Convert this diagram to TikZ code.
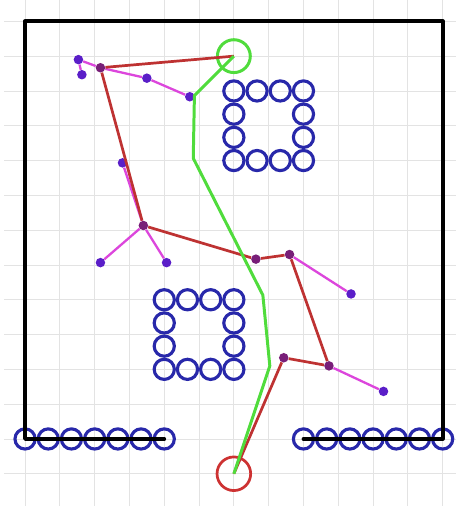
\documentclass[tikz,border=0pt]{standalone}
\usetikzlibrary{positioning}

\definecolor{obst}{RGB}{40,40,170}
\definecolor{treered}{RGB}{190,50,50}
\definecolor{treemag}{RGB}{220,70,220}
\definecolor{vtxin}{RGB}{120,30,120}
\definecolor{vtxleaf}{RGB}{90,30,200}
\definecolor{routegreen}{RGB}{80,220,60}
\definecolor{goalred}{RGB}{205,50,50}

\begin{document}
\begin{tikzpicture}[
  x=0.3cm, y=0.3cm,
  gridline/.style={gray!22, line width=0.6pt},
  wall/.style={black, line width=2.8pt, line join=round, line cap=round},
  obstacle/.style={obst, line width=2.3pt},
  branch/.style={treered, line width=2pt},
  twig/.style={treemag, line width=1.7pt},
  vtx/.style={circle, fill=vtxin, inner sep=0pt, minimum size=7pt},
  leaf/.style={circle, fill=vtxleaf, inner sep=0pt, minimum size=7pt},
  route/.style={routegreen, line width=2.2pt, line join=round},
]

% Geometry
\def\rob{0.87}         % radius of one obstacle disc

\useasboundingbox (-2.16,-5.78) rectangle (37.16,37.84);

% ── Background grid (every 3 units) ────────────────────────────────────
\foreach \gx in {0,3,...,36}
  \draw[gridline] (\gx,-5.78) -- (\gx,37.84);
\foreach \gy in {-3,0,...,36}
  \draw[gridline] (-1.8,\gy) -- (37.16,\gy);

% ── Obstacles ───────────────────────────────────────────────────────────
% Two rows of discs along the bottom wall
\foreach \ox in {0,2,...,12}
  \draw[obstacle] (\ox,0) circle (\rob);
\foreach \ox in {24,26,...,36}
  \draw[obstacle] (\ox,0) circle (\rob);

% Hollow square blocks: each entry is its lower-left disc
\foreach \bx/\by in {18/24, 12/6} {
  \foreach \k in {0,2,4,6} {
    \draw[obstacle] (\bx+\k,\by) circle (\rob);
    \draw[obstacle] (\bx+\k,\by+6) circle (\rob);
  }
  \foreach \k in {2,4} {
    \draw[obstacle] (\bx,\by+\k) circle (\rob);
    \draw[obstacle] (\bx+6,\by+\k) circle (\rob);
  }
}

% ── Walls (open gap in the bottom wall) ────────────────────────────────
\draw[wall] (12,0) -- (0,0) -- (0,36) -- (36,36) -- (36,0) -- (24,0);

% ── Start and goal ──────────────────────────────────────────────────────
\node[circle, draw=routegreen, line width=2.2pt, minimum size=0.85cm] (start) at (18,33) {};
\node[circle, draw=goalred, line width=2pt, minimum size=0.87cm] (goal) at (18,-3) {};

% ── Tree vertices ───────────────────────────────────────────────────────
\node[vtx]  (a)  at (6.5,32.0) {};
\node[leaf] (a1) at (4.6,32.7) {};
\node[leaf] (a2) at (4.9,31.4) {};
\node[leaf] (b)  at (10.5,31.1) {};
\node[leaf] (c)  at (14.2,29.5) {};
\node[leaf] (d)  at (8.4,23.8) {};
\node[vtx]  (e)  at (10.2,18.4) {};
\node[leaf] (e1) at (6.5,15.2) {};
\node[leaf] (e2) at (12.2,15.2) {};
\node[vtx]  (f)  at (19.9,15.5) {};
\node[vtx]  (g)  at (22.8,15.9) {};
\node[leaf] (g1) at (28.1,12.5) {};
\node[vtx]  (h)  at (26.2,6.3) {};
\node[leaf] (h1) at (30.9,4.1) {};
\node[vtx]  (i)  at (22.3,7.0) {};

% Side branches
\draw[twig] (a) -- (a1);
\draw[twig] (a1) -- (a2);
\draw[twig] (a) -- (b);
\draw[twig] (b) -- (c);
\draw[twig] (e) -- (d);
\draw[twig] (e) -- (e1);
\draw[twig] (e) -- (e2);
\draw[twig] (g) -- (g1);
\draw[twig] (h) -- (h1);

% Branch that reaches the goal
\draw[branch] (start.center) -- (a);
\draw[branch] (a) -- (e);
\draw[branch] (e) -- (f);
\draw[branch] (f) -- (g);
\draw[branch] (g) -- (h);
\draw[branch] (h) -- (i);
\draw[branch] (i) -- (goal.center);

% ── Smoothed route ──────────────────────────────────────────────────────
\coordinate (w1) at (14.6,29.6);
\coordinate (w2) at (14.5,24.2);
\coordinate (w3) at (20.5,12.4);
\coordinate (w4) at (21.1,6.3);
\draw[route] (start.center) -- (w1) -- (w2) -- (w3) -- (w4) -- (goal.center);

\end{tikzpicture}
\end{document}
